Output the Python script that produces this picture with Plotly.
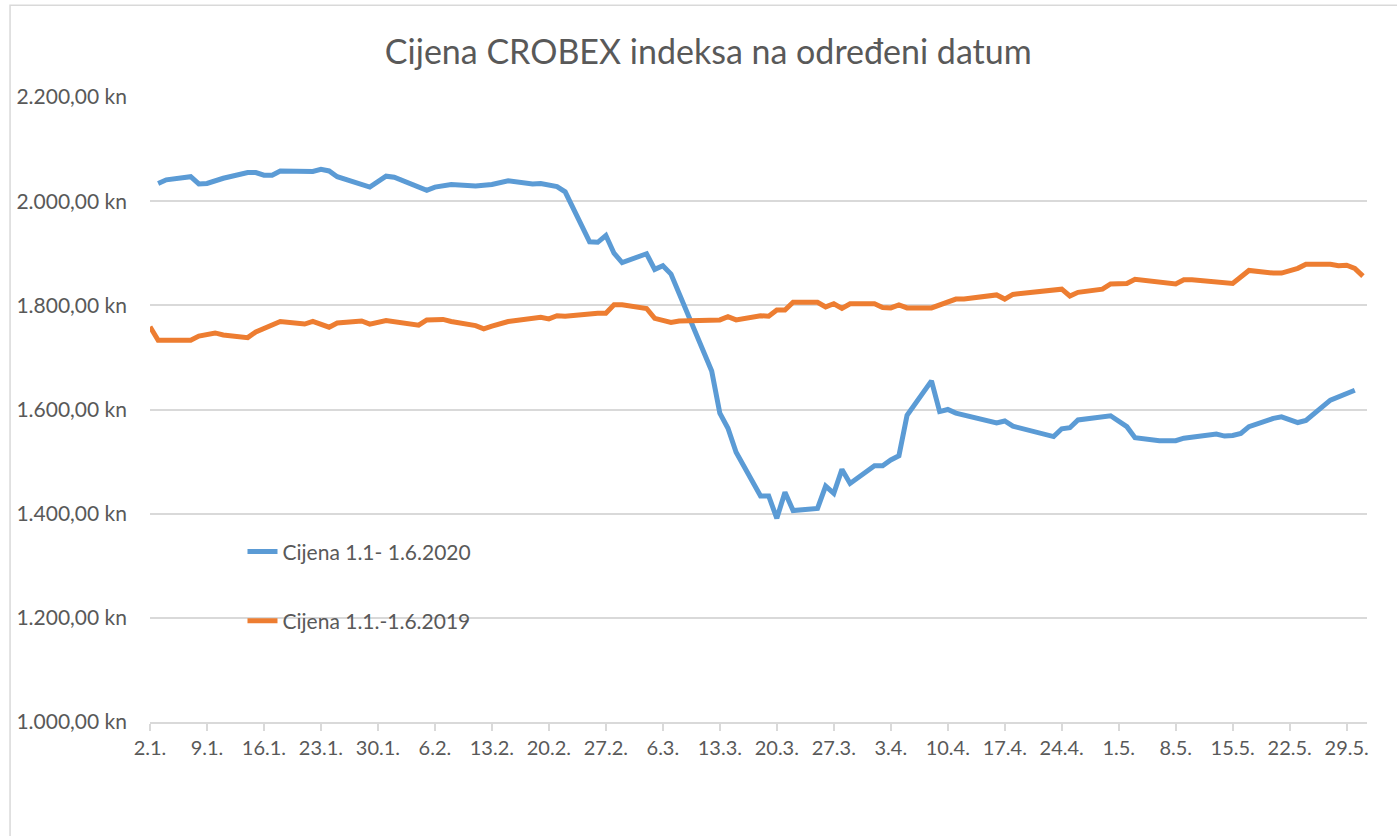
import plotly.graph_objects as go

# ---- data (dates on the 2019 axis) ----
dates_2020 = ["2019-01-03","2019-01-04","2019-01-07","2019-01-08","2019-01-09","2019-01-11","2019-01-14","2019-01-15",
              "2019-01-16","2019-01-17","2019-01-18","2019-01-22","2019-01-23","2019-01-24","2019-01-25","2019-01-29",
              "2019-01-31","2019-02-01","2019-02-05","2019-02-06","2019-02-08","2019-02-11","2019-02-13","2019-02-15",
              "2019-02-18","2019-02-19","2019-02-21","2019-02-22","2019-02-25","2019-02-26","2019-02-27","2019-02-28",
              "2019-03-01","2019-03-04","2019-03-05","2019-03-06","2019-03-07","2019-03-08","2019-03-11","2019-03-12",
              "2019-03-13","2019-03-14","2019-03-15","2019-03-18","2019-03-19","2019-03-20","2019-03-21","2019-03-22",
              "2019-03-25","2019-03-26","2019-03-27","2019-03-28","2019-03-29","2019-04-01","2019-04-02","2019-04-03",
              "2019-04-04","2019-04-05","2019-04-08","2019-04-09","2019-04-10","2019-04-11","2019-04-16","2019-04-17",
              "2019-04-18","2019-04-23","2019-04-24","2019-04-25","2019-04-26","2019-04-30","2019-05-02","2019-05-03",
              "2019-05-06","2019-05-08","2019-05-09","2019-05-13","2019-05-14","2019-05-15","2019-05-16","2019-05-17",
              "2019-05-20","2019-05-21","2019-05-23","2019-05-24","2019-05-27","2019-05-30"]
price_2020 = [2034, 2041, 2047, 2033, 2034, 2044, 2055, 2055,
              2050, 2050, 2058, 2057, 2061, 2058, 2047, 2027,
              2048, 2046, 2021, 2027, 2032, 2029, 2032, 2039,
              2033, 2034, 2028, 2018, 1922, 1921, 1934, 1900,
              1882, 1899, 1869, 1876, 1860, 1823, 1714, 1674,
              1593, 1564, 1518, 1434, 1434, 1391, 1441, 1406,
              1410, 1453, 1439, 1485, 1458, 1492, 1492, 1503,
              1511, 1589, 1655, 1596, 1600, 1593, 1574, 1578,
              1568, 1548, 1563, 1565, 1580, 1588, 1567, 1546,
              1540, 1540, 1545, 1553, 1549, 1550, 1554, 1567,
              1583, 1586, 1575, 1579, 1618, 1637]

dates_2019 = ["2019-01-02","2019-01-03","2019-01-07","2019-01-08","2019-01-10","2019-01-11","2019-01-14","2019-01-15",
              "2019-01-18","2019-01-21","2019-01-22","2019-01-24","2019-01-25","2019-01-28","2019-01-29","2019-01-31",
              "2019-02-04","2019-02-05","2019-02-07","2019-02-08","2019-02-11","2019-02-12","2019-02-13","2019-02-15",
              "2019-02-19","2019-02-20","2019-02-21","2019-02-22","2019-02-26","2019-02-27","2019-02-28","2019-03-01",
              "2019-03-04","2019-03-05","2019-03-07","2019-03-08","2019-03-13","2019-03-14","2019-03-15","2019-03-18",
              "2019-03-19","2019-03-20","2019-03-21","2019-03-22","2019-03-25","2019-03-26","2019-03-27","2019-03-28",
              "2019-03-29","2019-04-01","2019-04-02","2019-04-03","2019-04-04","2019-04-05","2019-04-08","2019-04-11",
              "2019-04-12","2019-04-16","2019-04-17","2019-04-18","2019-04-24","2019-04-25","2019-04-26","2019-04-29",
              "2019-04-30","2019-05-02","2019-05-03","2019-05-06","2019-05-07","2019-05-08","2019-05-09","2019-05-10",
              "2019-05-15","2019-05-17","2019-05-20","2019-05-21","2019-05-23","2019-05-24","2019-05-27","2019-05-28",
              "2019-05-29","2019-05-30","2019-05-31"]
price_2019 = [1759, 1733, 1733, 1741, 1747, 1743, 1738, 1749,
              1769, 1764, 1769, 1758, 1766, 1770, 1764, 1771,
              1762, 1772, 1773, 1769, 1761, 1755, 1760, 1769,
              1777, 1774, 1780, 1779, 1785, 1785, 1801, 1801,
              1794, 1775, 1767, 1770, 1772, 1778, 1772, 1780,
              1779, 1791, 1791, 1806, 1806, 1797, 1803, 1794,
              1803, 1803, 1796, 1795, 1801, 1795, 1795, 1812,
              1812, 1820, 1812, 1821, 1831, 1818, 1825, 1831,
              1841, 1842, 1850, 1845, 1841, 1841, 1849, 1849,
              1842, 1867, 1862, 1862, 1871, 1879, 1879, 1876,
              1877, 1871, 1856]

tick_dates = ["2019-01-02","2019-01-09","2019-01-16","2019-01-23","2019-01-30","2019-02-06","2019-02-13",
              "2019-02-20","2019-02-27","2019-03-06","2019-03-13","2019-03-20","2019-03-27","2019-04-03",
              "2019-04-10","2019-04-17","2019-04-24","2019-05-01","2019-05-08","2019-05-15","2019-05-22","2019-05-29"]
tick_labels = ["2.1.","9.1.","16.1.","23.1.","30.1.","6.2.","13.2.","20.2.","27.2.","6.3.","13.3.",
               "20.3.","27.3.","3.4.","10.4.","17.4.","24.4.","1.5.","8.5.","15.5.","22.5.","29.5."]
y_ticks = [1000, 1200, 1400, 1600, 1800, 2000, 2200]
y_labels = ["1.000,00 kn","1.200,00 kn","1.400,00 kn","1.600,00 kn","1.800,00 kn","2.000,00 kn","2.200,00 kn"]

name_2020 = "Cijena 1.1- 1.6.2020"
name_2019 = "Cijena 1.1.-1.6.2019"
title = "Cijena CROBEX indeksa na određeni datum"

FONT = "Lato"
TXT = "#595959"
GRID = "#d9d9d9"

fig = go.Figure()
fig.add_trace(go.Scatter(x=dates_2020, y=price_2020, mode="lines", name=name_2020,
                         legendgroup="a", line=dict(color="#5B9BD5", width=5)))
fig.add_trace(go.Scatter(x=dates_2019, y=price_2019, mode="lines", name=name_2019,
                         legendgroup="b", line=dict(color="#ED7D31", width=5)))

fig.update_layout(
    width=1397, height=836,
    margin=dict(l=150, r=30, t=97, b=114),
    paper_bgcolor="white", plot_bgcolor="white",
    font=dict(family=FONT, color=TXT, size=20),
    title=dict(text=title, x=0.507, xanchor="center", y=0.938, yanchor="middle",
               font=dict(family=FONT, size=34, color=TXT)),
    legend=dict(x=0.076, y=0.305, xanchor="left", yanchor="top", tracegroupgap=39,
                font=dict(family=FONT, size=21, color=TXT), bgcolor="rgba(0,0,0,0)"),
    showlegend=True,
)
fig.update_xaxes(type="date", range=["2019-01-02", "2019-05-31 12:00"],
                 tickvals=tick_dates, ticktext=tick_labels, tickangle=0,
                 showgrid=False, showline=True, linecolor=GRID, linewidth=1.5,
                 ticks="outside", ticklen=7, tickcolor=GRID, tickwidth=1.5,
                 tickfont=dict(family=FONT, size=20, color=TXT), zeroline=False)
fig.update_yaxes(range=[1000, 2200], tickvals=y_ticks, ticktext=y_labels,
                 showgrid=True, gridcolor=GRID, gridwidth=1.5, zeroline=False,
                 showline=False, ticks="", ticklabelstandoff=22,
                 tickfont=dict(family=FONT, size=21, color=TXT))
fig.add_shape(type="rect", xref="paper", yref="paper",
              x0=-0.115, x1=1.05, y0=-0.25, y1=1.147,
              line=dict(color=GRID, width=1.5), fillcolor="rgba(0,0,0,0)", layer="below")

fig.write_html("out.html", config={"displayModeBar": False},
               post_script="document.body.style.margin='0';document.body.style.overflow='hidden';")
